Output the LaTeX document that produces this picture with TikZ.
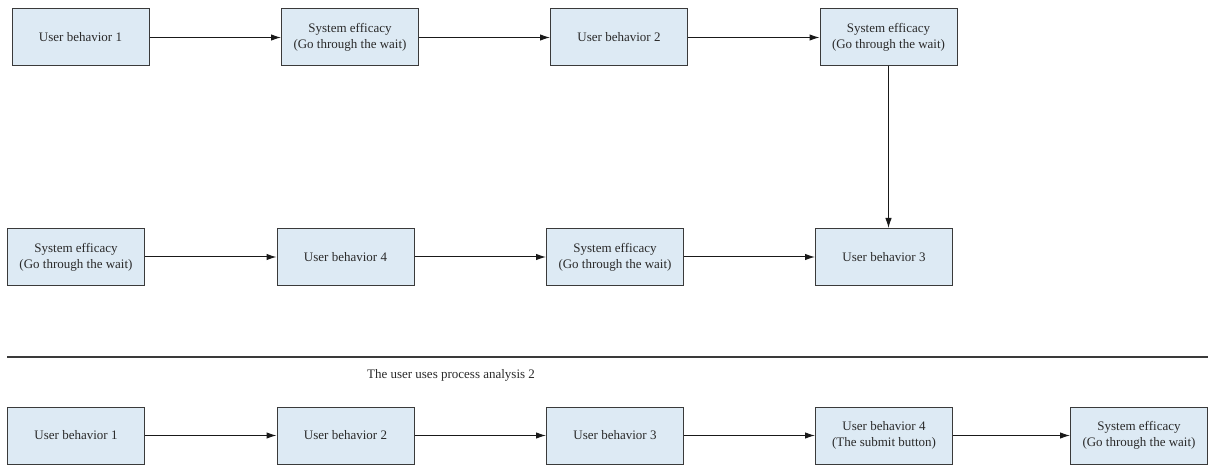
\documentclass[tikz,border=0pt]{standalone}
\usepackage{fontspec}
\setmainfont{Liberation Serif}
\usetikzlibrary{arrows.meta}
\definecolor{boxfill}{HTML}{DDEAF4}
\definecolor{boxline}{HTML}{3A3A3A}
\definecolor{txt}{HTML}{2A2A2A}
\tikzset{
  flowbox/.style={draw=boxline, line width=1pt, fill=boxfill, minimum width=137pt, minimum height=57pt,
    inner sep=0pt, align=center, text=txt, font=\fontsize{13}{16}\selectfont},
  flowarrow/.style={draw=black!90, line width=1pt, -{Latex[length=10pt,width=6.5pt]}},
  caption/.style={text=txt, font=\fontsize{13}{15}\selectfont, inner sep=0pt}
}
\begin{document}
\begin{tikzpicture}[x=1pt,y=-1pt]
\useasboundingbox (0,0) rectangle (1208,465);
% row 1
\node[flowbox] (a1) at (80.5,37.5) {User behavior 1};
\node[flowbox] (a2) at (350,37.5) {System efficacy\\(Go through the wait)};
\node[flowbox] (a3) at (619,37.5) {User behavior 2};
\node[flowbox] (a4) at (888.5,37.5) {System efficacy\\(Go through the wait)};
% row 2
\node[flowbox] (b1) at (76,257) {System efficacy\\(Go through the wait)};
\node[flowbox] (b2) at (345.5,257) {User behavior 4};
\node[flowbox] (b3) at (615,257) {System efficacy\\(Go through the wait)};
\node[flowbox] (b4) at (884,257) {User behavior 3};
% separator
\coordinate (l1) at (7,357);
\coordinate (l2) at (1208,357);
\draw[draw=boxline, line width=1.2pt] (l1) -- (l2);
\node[caption] (cap) at (451,375) {The user uses process analysis 2};
% row 3
\node[flowbox] (c1) at (76,435.5) {User behavior 1};
\node[flowbox] (c2) at (345.5,435.5) {User behavior 2};
\node[flowbox] (c3) at (615,435.5) {User behavior 3};
\node[flowbox] (c4) at (884,435.5) {User behavior 4\\(The submit button)};
\node[flowbox] (c5) at (1139,435.5) {System efficacy\\(Go through the wait)};
% arrows
\draw[flowarrow] (a1) -- (a2);
\draw[flowarrow] (a2) -- (a3);
\draw[flowarrow] (a3) -- (a4);
\draw[flowarrow] (a4.south) -- (a4.south |- b4.north);
\draw[flowarrow] (b1) -- (b2);
\draw[flowarrow] (b2) -- (b3);
\draw[flowarrow] (b3) -- (b4);
\draw[flowarrow] (c1) -- (c2);
\draw[flowarrow] (c2) -- (c3);
\draw[flowarrow] (c3) -- (c4);
\draw[flowarrow] (c4) -- (c5);
\end{tikzpicture}
\end{document}
